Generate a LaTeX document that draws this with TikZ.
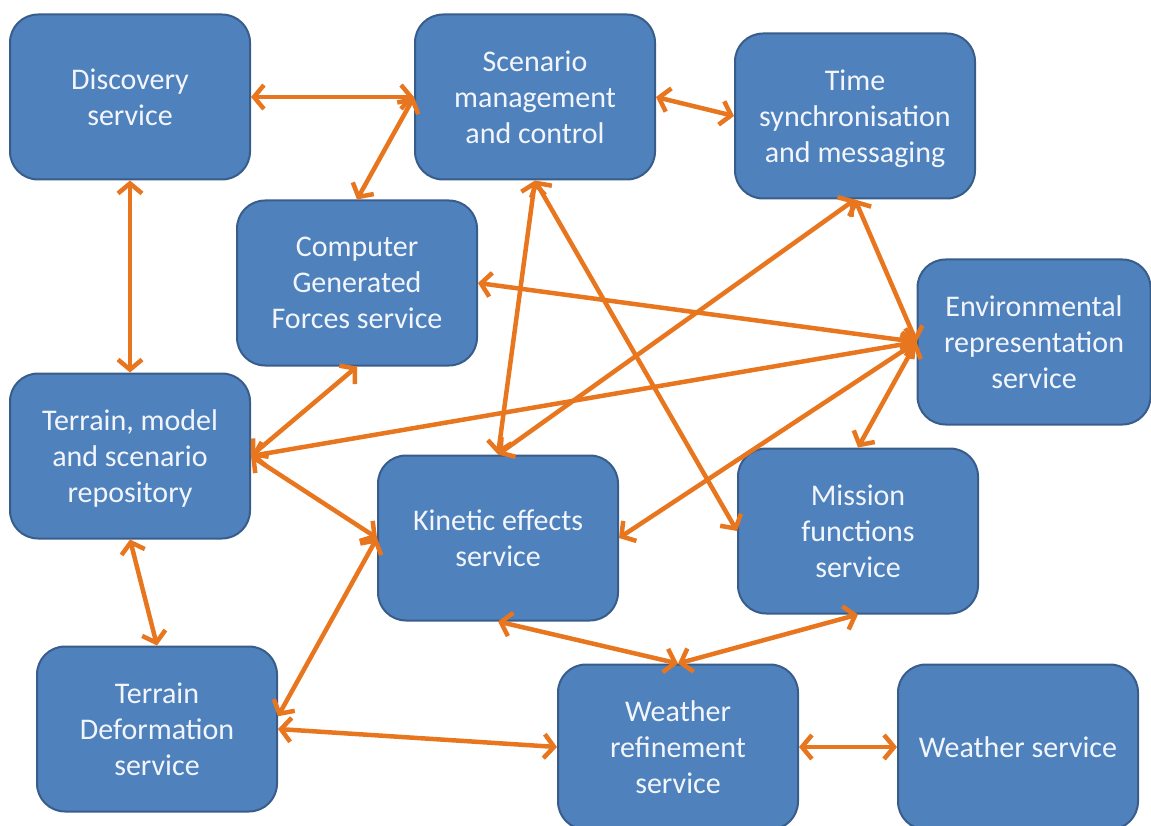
\documentclass[tikz,border=0pt]{standalone}
\usepackage{fontspec}
\setmainfont{Carlito}
\usetikzlibrary{arrows.meta}
\definecolor{boxfill}{RGB}{79,129,189}
\definecolor{boxline}{RGB}{56,93,138}
\definecolor{arr}{RGB}{232,118,30}
\definecolor{txt}{RGB}{242,246,252}
\begin{document}
\begin{tikzpicture}[x=1pt,y=-1pt,
  svc/.style={draw=boxline, line width=2pt, fill=boxfill, rounded corners=28pt,
    minimum width=240pt, minimum height=165pt, text=txt, align=center,
    font=\fontsize{30}{36}\selectfont, inner sep=0pt, text depth=0pt},
  link/.style={draw=arr, line width=4.5pt,
    {Straight Barb[length=10pt,width=24pt]}-{Straight Barb[length=10pt,width=24pt]}}]
\useasboundingbox (0,0) rectangle (1151,826);
\node[svc] (disc) at (130,97) {Discovery\\service};
\node[svc] (scen) at (535,97) {Scenario\\management\\and control};
\node[svc] (time) at (855,116) {Time\\synchronisation\\and messaging};
\node[svc] (cgf) at (357,283) {Computer\\Generated\\Forces service};
\node[svc, minimum width=233pt] (env) at (1034,342) {Environmental\\representation\\service};
\node[svc] (repo) at (130,456) {Terrain, model\\and scenario\\repository};
\node[svc] (kin) at (498,538) {Kinetic effects\\service};
\node[svc] (mis) at (858,531) {Mission\\functions\\service};
\node[svc] (def) at (157,729) {Terrain\\Deformation\\service};
\node[svc] (wref) at (678,747) {Weather\\refinement\\service};
\node[svc] (wsvc) at (1018,747) {Weather service};

\draw[link] (disc.east) -- (scen.west);
\draw[link] (scen.west) -- (cgf.north);
\draw[link] (disc.south) -- (repo.north);
\draw[link] (scen.east) -- (time.west);
\draw[link] (scen.south) -- (kin.north);
\draw[link] (scen.south) -- (mis.west);
\draw[link] (time.south) -- (kin.north);
\draw[link] (time.south) -- (env.west);
\draw[link] (cgf.east) -- (env.west);
\draw[link] (repo.east) -- (env.west);
\draw[link] (env.west) -- (kin.east);
\draw[link] (env.west) -- (mis.north);
\draw[link] (cgf.south) -- (repo.east);
\draw[link] (repo.east) -- (kin.west);
\draw[link] (repo.south) -- (def.north);
\draw[link] (def.6) -- (kin.west);
\draw[link] (def.east) -- (wref.west);
\draw[link] (kin.south) -- (wref.north);
\draw[link] (mis.south) -- (wref.north);
\draw[link] (wref.east) -- (wsvc.west);
\end{tikzpicture}
\end{document}
